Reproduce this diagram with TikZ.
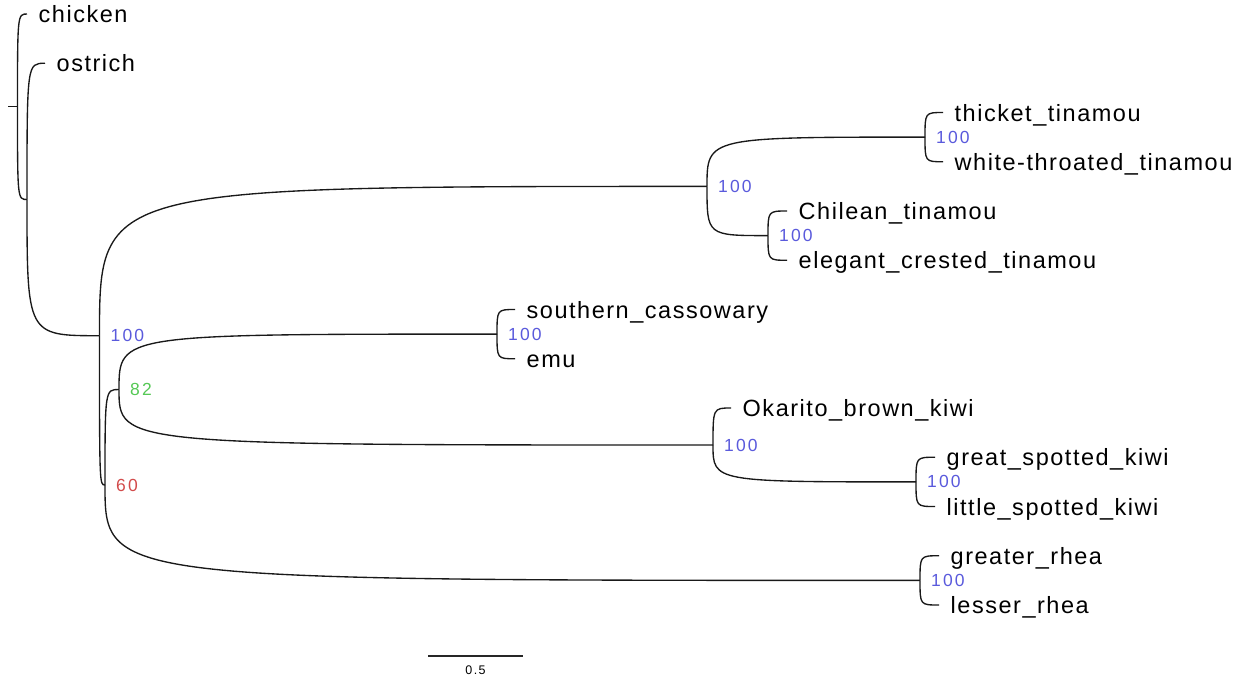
\documentclass[tikz,border=0pt]{standalone}
\usepackage{fontspec}
\setmainfont{Liberation Sans}
\newfontfamily\tipfont[LetterSpace=6.5]{Liberation Sans}
\newfontfamily\supfont[LetterSpace=12]{Liberation Sans}
\usetikzlibrary{calc}
\definecolor{suphigh}{RGB}{90,90,220}
\definecolor{supmid}{RGB}{85,200,85}
\definecolor{suplow}{RGB}{210,75,75}
\begin{document}
\begin{tikzpicture}[x=1pt,y=-1pt,
  branch/.style={line width=1.35pt, black!90},
  tiplabel/.style={anchor=base west, inner sep=0pt, text=black,
    font=\tipfont\fontsize{23.5}{24}\selectfont},
  support/.style={anchor=base west, inner sep=0pt,
    font=\supfont\fontsize{17.5}{18}\selectfont},
  scalelabel/.style={anchor=center, inner sep=0pt,
    font=\supfont\fontsize{12.5}{13}\selectfont}]
\useasboundingbox (0,0) rectangle (1250,678);

% tips
\coordinate (chk) at (27,14);
\coordinate (ost) at (45,63.25);
\coordinate (thk) at (943,112.5);
\coordinate (wht) at (943,161.75);
\coordinate (chl) at (787,211);
\coordinate (elg) at (787,260.25);
\coordinate (cas) at (515,309.5);
\coordinate (emu) at (515,358.75);
\coordinate (oka) at (731,408);
\coordinate (gsk) at (935,457.25);
\coordinate (lsk) at (935,506.5);
\coordinate (grh) at (939,555.75);
\coordinate (lrh) at (939,605);

% internal nodes
\coordinate (nI) at (925,137.1);
\coordinate (nJ) at (768,235.6);
\coordinate (nC) at (707,186.4);
\coordinate (nE) at (497,334.1);
\coordinate (nK) at (916,481.9);
\coordinate (nF) at (713,445);
\coordinate (nD) at (119,389.5);
\coordinate (nH) at (920,580.4);
\coordinate (nG) at (105,485);
\coordinate (nB) at (99.5,335.7);
\coordinate (nA) at (27,199.5);
\coordinate (nR) at (17.5,106.7);
\coordinate (stub) at (8,106.7);

% curved branches: vertical at the parent, horizontal at the child
\foreach \p/\c in {nR/chk, nR/nA, nA/ost, nA/nB, nB/nC, nB/nG,
                   nC/nI, nC/nJ, nI/thk, nI/wht, nJ/chl, nJ/elg,
                   nG/nD, nG/nH, nD/nE, nD/nF, nE/cas, nE/emu,
                   nF/oka, nF/nK, nK/gsk, nK/lsk, nH/grh, nH/lrh}
  \draw[branch] (\p) .. controls (\p |- \c) and (\p |- \c) .. (\c);
\draw[branch] (stub) -- (nR);

% taxon names
\foreach \t/\name in {chk/chicken, ost/ostrich, thk/thicket\_tinamou,
    wht/white-throated\_tinamou, chl/Chilean\_tinamou,
    elg/elegant\_crested\_tinamou, cas/southern\_cassowary, emu/emu,
    oka/Okarito\_brown\_kiwi, gsk/great\_spotted\_kiwi,
    lsk/little\_spotted\_kiwi, grh/greater\_rhea, lrh/lesser\_rhea}
  \node[tiplabel] (\t-lab) at ($(\t)+(11.5,8.5)$) {\name};

% support values
\foreach \n/\v/\col in {nI/100/suphigh, nJ/100/suphigh, nC/100/suphigh,
    nE/100/suphigh, nF/100/suphigh, nK/100/suphigh, nH/100/suphigh,
    nB/100/suphigh, nD/82/supmid, nG/60/suplow}
  \node[support, text=\col] (\n-sup) at ($(\n)+(11,6)$) {\v};

% scale bar
\coordinate (sbl) at (428,656);
\coordinate (sbr) at (523,656);
\draw[line width=1.3pt, black!85] (sbl) -- (sbr);
\node[scalelabel] (sblab) at (475.5,670) {0.5};
\end{tikzpicture}
\end{document}
